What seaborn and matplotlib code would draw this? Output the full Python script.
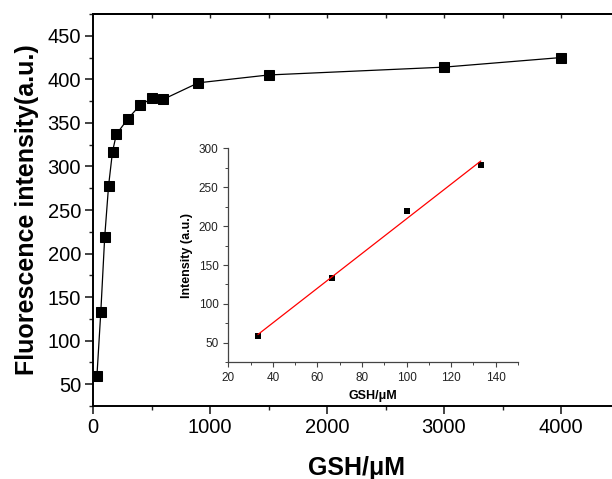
import numpy as np
import pandas as pd
import matplotlib
matplotlib.use("Agg")
import matplotlib.pyplot as plt
from matplotlib.ticker import MultipleLocator
import seaborn as sns

# Main data
gsh = [33.3, 66.7, 100, 133.3, 166.7, 200, 300, 400, 500, 600, 900, 1500, 3000, 4000]
intensity = [59, 133, 219, 278, 317, 337, 355, 370, 378, 377, 396, 405, 414, 425]

# Inset data
gsh_lin = [33.3, 66.7, 100, 133.3]
int_lin = [59, 133, 219, 278]

main_xticks = [0, 1000, 2000, 3000, 4000]
main_yticks = [50, 100, 150, 200, 250, 300, 350, 400, 450]
inset_xticks = [20, 40, 60, 80, 100, 120, 140]
inset_yticks = [50, 100, 150, 200, 250, 300]

sns.set_style("ticks")
plt.rcParams["font.family"] = ["Liberation Sans", "DejaVu Sans"]
plt.rcParams["text.color"] = "black"
plt.rcParams["axes.labelcolor"] = "black"

fig = plt.figure(figsize=(6.12, 4.79), dpi=100)
ax = fig.add_axes([93/612, 73/479, (619.5-93)/612, (406-14)/479])

df = pd.DataFrame({"x": gsh, "y": intensity})
sns.lineplot(data=df, x="x", y="y", ax=ax, color="black", lw=0.9,
             marker="s", markersize=6.5, markeredgecolor="black", markerfacecolor="black")

ax.set_xlim(0, 4500)
ax.set_ylim(25, 475)
ax.set_xticks(main_xticks)
ax.set_yticks(main_yticks)
ax.xaxis.set_minor_locator(MultipleLocator(500))
ax.yaxis.set_minor_locator(MultipleLocator(25))
ax.tick_params(which="major", direction="out", length=5.5, width=1.2, labelsize=14.5,
               color="#222222", labelcolor="black", pad=3)
ax.tick_params(which="minor", direction="out", length=3, width=1.0, color="#222222")
for s in ["left", "bottom", "top"]:
    ax.spines[s].set_linewidth(1.4)
    ax.spines[s].set_color("black")
ax.spines["right"].set_visible(False)
ax.set_xlabel("GSH/μM", fontsize=18, fontweight="bold", labelpad=14)
ax.set_ylabel("Fluorescence intensity(a.u.)", fontsize=18, fontweight="bold", labelpad=6)

sec = ax.secondary_xaxis("top")
sec.set_xticks([500, 1000, 1500, 2000, 2500, 3000, 3500, 4000])
sec.tick_params(direction="in", length=3, width=1.0, labeltop=False, color="#222222")
sec.spines["top"].set_linewidth(1.4)
sec.spines["top"].set_color("black")

# Inset
ins = fig.add_axes([228.3/612, (479-362.3)/479, (518-228.3)/612, (362.3-148.3)/479])
sns.regplot(x=gsh_lin, y=int_lin, ax=ins, ci=None, scatter=False,
            line_kws={"color": "red", "lw": 0.9})
sns.scatterplot(x=gsh_lin, y=int_lin, ax=ins, marker="s", s=22, color="black",
                edgecolor="black", linewidth=0)
ins.set_xlim(20, 150)
ins.set_ylim(25, 300)
ins.set_xticks(inset_xticks)
ins.set_yticks(inset_yticks)
ins.xaxis.set_minor_locator(MultipleLocator(10))
ins.yaxis.set_minor_locator(MultipleLocator(25))
ins.tick_params(which="major", direction="out", length=3.5, width=0.8, labelsize=8.5,
                color="#444444", labelcolor="#222222")
ins.tick_params(which="minor", direction="out", length=2, width=0.7, color="#444444")
ins.spines["top"].set_visible(False)
ins.spines["right"].set_visible(False)
ins.spines["left"].set_bounds(25, 300)
for s in ["left", "bottom"]:
    ins.spines[s].set_linewidth(0.9)
    ins.spines[s].set_color("#444444")
ins.patch.set_alpha(0)
ins.set_xlabel("GSH/μM", fontsize=9, fontweight="bold", labelpad=4)
ins.set_ylabel("Intensity (a.u.)", fontsize=9, fontweight="bold", labelpad=4)

fig.savefig("out.png", dpi=100)
